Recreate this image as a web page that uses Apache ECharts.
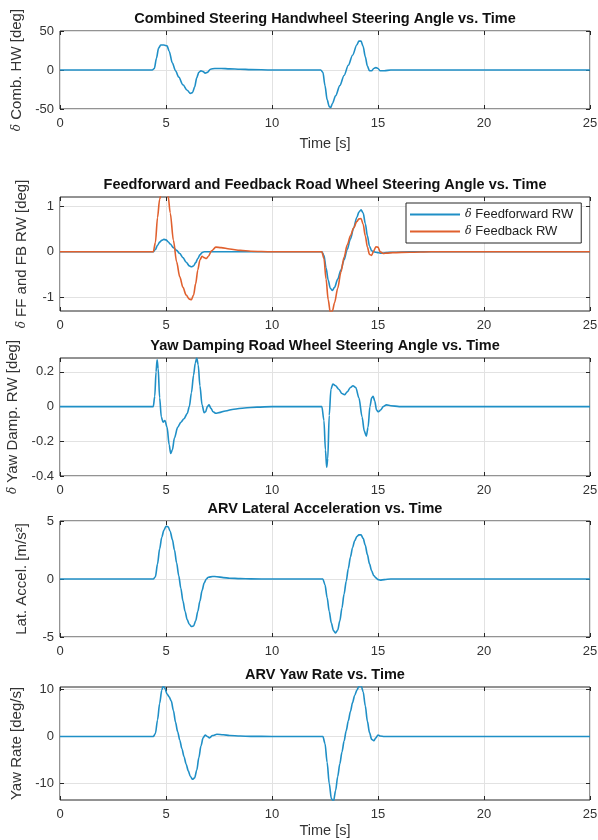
<!DOCTYPE html>
<html>
<head>
<meta charset="utf-8">
<script src="https://cdn.jsdelivr.net/npm/echarts@6/dist/echarts.min.js"></script>
<style>
html,body{margin:0;padding:0;background:#fff;}
#chart{width:598px;height:840px;}
</style>
</head>
<body>
<div id="chart"></div>
<script>
// ---------- DATA ----------
const xTicks = [0, 5, 10, 15, 20, 25];

// Panel 1: Combined steering handwheel angle [deg]
const hwTime  = [0, 4.35, 4.45, 4.55, 4.65, 4.75, 4.9, 5.05, 5.15, 5.3, 5.45, 5.6, 5.8, 6.0, 6.15, 6.25, 6.35, 6.45, 6.55, 6.65, 6.75, 6.85, 6.95, 7.1, 7.3, 7.6, 8.0, 8.5, 9.0, 10, 12.3, 12.4, 12.5, 12.6, 12.7, 12.77, 12.85, 13.0, 13.2, 13.4, 13.6, 13.8, 14.0, 14.1, 14.2, 14.3, 14.4, 14.5, 14.6, 14.7, 14.8, 14.9, 15.0, 15.1, 15.3, 15.6, 25];
const hwAngle = [0, 0, 2, 15, 28, 32, 32, 31, 24, 9, -1, -9, -19, -26, -30, -29, -22, -10, -3, -1, -2, -4, -3, 1, 2, 2, 1.5, 1, 0.5, 0, 0, -3, -20, -38, -47, -48, -43, -33, -20, -7, 6, 19, 32, 37, 37, 30, 17, 5, -1, -1, 2, 3, 2, -1, -1, 0, 0];
const hwTicks = [-50, 0, 50];

// Panel 2: Feedforward / Feedback road wheel angle [deg]
const rwTime = [0, 4.4, 4.5, 4.6, 4.7, 4.8, 4.9, 5.0, 5.1, 5.2, 5.35, 5.5, 5.65, 5.8, 5.95, 6.1, 6.2, 6.3, 6.4, 6.5, 6.6, 6.7, 6.8, 6.9, 7.0, 7.15, 7.35, 7.6, 8.0, 8.5, 9.0, 10, 12.35, 12.45, 12.55, 12.65, 12.75, 12.85, 12.95, 13.1, 13.25, 13.4, 13.55, 13.7, 13.85, 14.0, 14.1, 14.2, 14.3, 14.4, 14.5, 14.6, 14.7, 14.8, 14.9, 15.0, 15.1, 15.25, 15.4, 15.7, 16.5, 17.5, 25];
const ffAngle = [0, 0, 0.05, 0.14, 0.21, 0.25, 0.27, 0.26, 0.22, 0.17, 0.09, 0.03, -0.04, -0.13, -0.23, -0.31, -0.33, -0.31, -0.24, -0.15, -0.07, -0.02, 0, 0, 0, 0, 0, 0, 0, 0, 0, 0, 0, -0.08, -0.35, -0.62, -0.8, -0.85, -0.78, -0.6, -0.4, -0.18, 0.05, 0.28, 0.52, 0.75, 0.87, 0.92, 0.85, 0.62, 0.35, 0.12, 0.02, 0, -0.01, -0.02, -0.03, -0.03, -0.02, -0.01, 0, 0, 0];
const fbAngle = [0, 0, 0.2, 0.75, 1.15, 1.35, 1.42, 1.38, 1.22, 0.85, 0.25, -0.22, -0.55, -0.78, -0.95, -1.04, -1.05, -0.95, -0.7, -0.4, -0.18, -0.1, -0.13, -0.15, -0.1, 0.02, 0.1, 0.09, 0.06, 0.03, 0.01, 0, 0, -0.15, -0.6, -1.05, -1.33, -1.3, -1.12, -0.8, -0.45, -0.12, 0.15, 0.35, 0.52, 0.66, 0.72, 0.73, 0.6, 0.35, 0.1, -0.06, -0.08, 0.02, 0.11, 0.1, 0, -0.04, -0.03, -0.02, -0.01, 0, 0];
const rwTicks = [-1, 0, 1];
const rwNames = ['Feedforward RW', 'Feedback RW'];

// Panel 3: Yaw damping road wheel angle [deg]
const ydTime  = [0, 4.4, 4.47, 4.53, 4.58, 4.63, 4.7, 4.78, 4.86, 4.95, 5.05, 5.15, 5.22, 5.3, 5.4, 5.55, 5.7, 5.85, 6.0, 6.1, 6.2, 6.3, 6.38, 6.45, 6.52, 6.6, 6.7, 6.8, 6.87, 6.95, 7.03, 7.12, 7.22, 7.35, 7.5, 7.8, 8.2, 8.7, 9.3, 10, 12.35, 12.45, 12.52, 12.58, 12.63, 12.7, 12.78, 12.87, 13.0, 13.15, 13.3, 13.42, 13.55, 13.7, 13.82, 13.95, 14.1, 14.25, 14.35, 14.45, 14.53, 14.62, 14.7, 14.77, 14.85, 14.93, 15.02, 15.12, 15.25, 15.4, 15.6, 16, 25];
const ydAngle = [0, 0, 0.06, 0.2, 0.27, 0.22, 0.05, -0.06, -0.09, -0.08, -0.12, -0.22, -0.27, -0.25, -0.18, -0.12, -0.09, -0.07, -0.04, 0.0, 0.08, 0.18, 0.25, 0.28, 0.24, 0.12, 0.01, -0.035, -0.03, 0.0, 0.01, -0.01, -0.03, -0.038, -0.035, -0.025, -0.015, -0.008, -0.003, 0, 0, -0.08, -0.25, -0.35, -0.3, -0.05, 0.1, 0.13, 0.12, 0.1, 0.075, 0.068, 0.085, 0.11, 0.12, 0.11, 0.05, -0.06, -0.14, -0.17, -0.12, 0.0, 0.05, 0.06, 0.03, -0.02, -0.03, -0.02, 0.0, 0.01, 0.005, 0, 0];
const ydTicks = [-0.4, -0.2, 0, 0.2];

// Panel 4: Lateral acceleration [m/s^2]
const laTime  = [0, 4.4, 4.5, 4.6, 4.7, 4.8, 4.9, 5.0, 5.1, 5.2, 5.3, 5.4, 5.5, 5.6, 5.7, 5.8, 5.9, 6.0, 6.1, 6.2, 6.3, 6.4, 6.5, 6.6, 6.7, 6.8, 6.9, 7.0, 7.2, 7.4, 7.7, 8.0, 8.5, 9.0, 10, 12.4, 12.5, 12.6, 12.7, 12.8, 12.9, 13.0, 13.1, 13.2, 13.3, 13.4, 13.5, 13.6, 13.7, 13.8, 13.9, 14.0, 14.1, 14.2, 14.3, 14.4, 14.5, 14.6, 14.7, 14.8, 14.9, 15.0, 15.1, 15.3, 15.6, 25];
const laAccel = [0, 0, 0.2, 1.3, 2.6, 3.6, 4.2, 4.55, 4.5, 4.1, 3.4, 2.5, 1.4, 0.3, -0.8, -1.9, -2.8, -3.5, -3.9, -4.1, -4.05, -3.6, -2.8, -1.9, -1.0, -0.35, 0.0, 0.15, 0.22, 0.2, 0.12, 0.07, 0.03, 0.01, 0, 0, -0.5, -1.6, -2.8, -3.8, -4.45, -4.65, -4.4, -3.6, -2.5, -1.3, -0.2, 0.9, 1.9, 2.7, 3.3, 3.65, 3.8, 3.8, 3.5, 2.9, 2.1, 1.3, 0.7, 0.3, 0.1, -0.05, -0.1, -0.05, 0, 0];
const laTicks = [-5, 0, 5];

// Panel 5: Yaw rate [deg/s]
const yrTime = [0, 4.4, 4.5, 4.6, 4.7, 4.8, 4.87, 4.95, 5.05, 5.15, 5.25, 5.35, 5.45, 5.55, 5.65, 5.75, 5.85, 5.95, 6.05, 6.15, 6.25, 6.35, 6.45, 6.55, 6.65, 6.75, 6.85, 6.95, 7.05, 7.2, 7.4, 7.7, 8.0, 8.5, 9.0, 10, 12.4, 12.5, 12.6, 12.7, 12.8, 12.9, 13.0, 13.1, 13.2, 13.3, 13.4, 13.5, 13.6, 13.7, 13.8, 13.9, 14.0, 14.1, 14.2, 14.3, 14.4, 14.5, 14.6, 14.7, 14.8, 14.9, 15.0, 15.1, 15.3, 15.6, 25];
const yrRate = [0, 0, 0.6, 3.5, 7.0, 9.8, 10.8, 10.2, 9.0, 8.4, 7.5, 5.5, 3.0, 1.0, -0.8, -2.6, -4.3, -5.9, -7.3, -8.5, -9.1, -8.8, -7.2, -4.5, -2.0, -0.3, 0.3, 0.0, -0.3, 0.2, 0.45, 0.35, 0.2, 0.08, 0.02, 0, 0, -1.5, -5.5, -10.0, -13.2, -13.8, -11.5, -8.5, -5.8, -3.3, -1.0, 1.2, 3.3, 5.3, 7.2, 8.7, 9.8, 10.6, 10.8, 9.5, 6.5, 3.2, 0.8, -0.6, -0.9, -0.3, 0.3, 0.1, 0, 0, 0];
const yrTicks = [-10, 0, 10];

// ---------- CHART ----------
const FONT = '"Liberation Sans", Arial, Helvetica, sans-serif';
const BLUE = '#1f8fc6';
const ORANGE = '#e0602e';
const AXC = '#262626';

const panels = [
  {title: 'Combined Steering Handwheel Steering Angle vs. Time', top: 31, height: 78, ymin: -50, ymax: 50, ticks: hwTicks,
   yname: '{d|δ} Comb. HW [deg]', xname: 'Time [s]', xgap: 27,
   series: [{t: hwTime, v: hwAngle, c: BLUE}]},
  {title: 'Feedforward and Feedback Road Wheel Steering Angle vs. Time', top: 197, height: 114, ymin: -1.3, ymax: 1.2, ticks: rwTicks,
   yname: '{d|δ} FF and FB RW [deg]', xname: '', xgap: 27,
   series: [{t: rwTime, v: ffAngle, c: BLUE, name: rwNames[0]}, {t: rwTime, v: fbAngle, c: ORANGE, name: rwNames[1]}]},
  {title: 'Yaw Damping Road Wheel Steering Angle vs. Time', top: 358, height: 118, ymin: -0.4, ymax: 0.28, ticks: ydTicks,
   yname: '{d|δ} Yaw Damp. RW [deg]', xname: '', xgap: 27,
   series: [{t: ydTime, v: ydAngle, c: BLUE}]},
  {title: 'ARV Lateral Acceleration vs. Time', top: 521, height: 116, ymin: -5, ymax: 5, ticks: laTicks,
   yname: 'Lat. Accel. [m/s²]', xname: '', xgap: 27,
   series: [{t: laTime, v: laAccel, c: BLUE}]},
  {title: 'ARV Yaw Rate vs. Time', top: 687, height: 113, ymin: -13.5, ymax: 10.5, ticks: yrTicks,
   yname: 'Yaw Rate [deg/s]', xname: 'Time [s]', xgap: 23,
   series: [{t: yrTime, v: yrRate, c: BLUE}]}
];

const PL = 60, PR = 8, PCX = (60 + 590) / 2;
const grid = [], xAxis = [], yAxis = [], series = [], title = [];
const tickStyle = {show: true, inside: true, length: 4, lineStyle: {color: AXC, width: 1}};
const noLine = {show: false, onZero: false};

panels.forEach((p, i) => {
  grid.push({left: PL, right: PR, top: p.top, height: p.height, show: true, borderColor: AXC, borderWidth: 1,
    backgroundColor: '#fff', containLabel: false, outerBoundsMode: 'none'});
  title.push({text: p.title, left: PCX, top: p.top - 20, textAlign: 'center', padding: 0,
    textStyle: {fontFamily: FONT, fontSize: 14.5, fontWeight: 'bold', color: '#111'}});
  const xi = xAxis.length;
  xAxis.push({type: 'value', gridIndex: i, min: 0, max: 25, interval: 5, position: 'bottom',
    axisLine: noLine, axisTick: Object.assign({customValues: xTicks}, tickStyle),
    axisLabel: {customValues: xTicks, margin: 8, fontFamily: FONT, fontSize: 13, color: '#333'},
    splitLine: {show: true, lineStyle: {color: '#e2e2e2', width: 1}},
    name: p.xname, nameLocation: 'middle', nameGap: p.xgap,
    nameTextStyle: {fontFamily: FONT, fontSize: 14.5, color: '#333'}});
  xAxis.push({type: 'value', gridIndex: i, min: 0, max: 25, interval: 5, position: 'top',
    axisLine: noLine, axisTick: Object.assign({customValues: xTicks}, tickStyle),
    axisLabel: {show: false}, splitLine: {show: false}});
  const yi = yAxis.length;
  yAxis.push({type: 'value', gridIndex: i, min: p.ymin, max: p.ymax, position: 'left',
    axisLine: noLine, axisTick: Object.assign({customValues: p.ticks}, tickStyle),
    axisLabel: {customValues: p.ticks, margin: 6, fontFamily: FONT, fontSize: 13, color: '#333'},
    splitLine: {show: true, lineStyle: {color: '#e2e2e2', width: 1}},
    name: p.yname, nameLocation: 'middle', nameGap: 31, nameRotate: 90,
    nameTextStyle: {fontFamily: FONT, fontSize: 15, color: '#333',
      rich: {d: {fontFamily: '"DejaVu Serif", serif', fontStyle: 'italic', fontSize: 12, color: '#333'}}}});
  yAxis.push({type: 'value', gridIndex: i, min: p.ymin, max: p.ymax, position: 'right',
    axisLine: noLine, axisTick: Object.assign({customValues: p.ticks}, tickStyle),
    axisLabel: {show: false}, splitLine: {show: false}});
  p.series.forEach(s => {
    series.push({type: 'line', name: s.name, xAxisIndex: xi, yAxisIndex: yi,
      data: s.t.map((t, k) => [t, s.v[k]]),
      showSymbol: false, symbol: 'none', smooth: 0.3, smoothMonotone: 'x', clip: true,
      lineStyle: {color: s.c, width: 1.6}, itemStyle: {color: s.c}, animation: false});
  });
});

const chart = echarts.init(document.getElementById('chart'), null, {renderer: 'canvas'});
chart.setOption({
  backgroundColor: '#fff',
  animation: false,
  title: title,
  grid: grid,
  xAxis: xAxis,
  yAxis: yAxis,
  legend: {
    data: rwNames, orient: 'vertical', left: 406, top: 203,
    padding: [5, 8, 5, 4], itemGap: 4, itemWidth: 50, itemHeight: 2, icon: 'rect',
    borderColor: AXC, borderWidth: 1, backgroundColor: '#fff',
    formatter: n => '{d|δ} ' + n,
    textStyle: {fontFamily: FONT, fontSize: 13, color: '#222',
      rich: {d: {fontFamily: '"DejaVu Serif", serif', fontStyle: 'italic', fontSize: 11, color: '#222'}}}
  },
  series: series
});
</script>
</body>
</html>
